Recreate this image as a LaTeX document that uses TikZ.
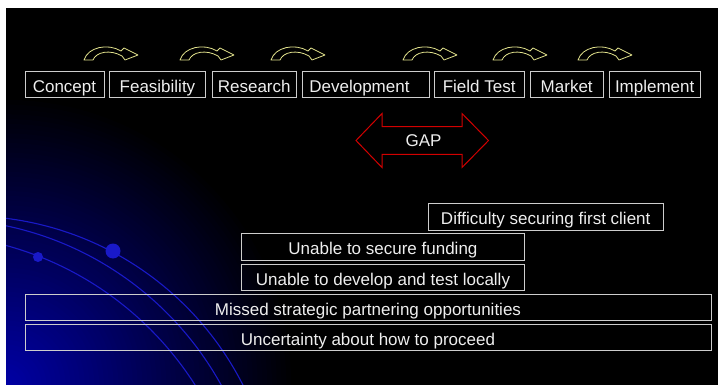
\documentclass[tikz,border=0pt]{standalone}
\usepackage{fontspec}
\setmainfont{Liberation Sans}
\definecolor{boxline}{RGB}{205,205,205}
\definecolor{txt}{RGB}{238,238,238}
\definecolor{arrowyel}{RGB}{225,225,140}
\definecolor{gapred}{RGB}{210,0,0}
\definecolor{deco}{RGB}{25,25,200}
\definecolor{glow}{RGB}{0,0,165}
\begin{document}
\begin{tikzpicture}[x=1pt,y=-1pt,
  stagebox/.style={draw=boxline, line width=0.9pt, text=txt,
    font=\fontsize{17}{19}\selectfont, inner sep=0pt, anchor=north west,
    text height=20pt, text depth=4pt},
  gaparrow/.style={draw=gapred, line width=1pt, line join=miter},
  decoarc/.style={draw=deco, line width=1.1pt},
  curvarrow/.pic={\draw[arrowyel, line width=0.8pt, line join=round]
    (0,0) -- (9,0) .. controls (12,-8) and (26,-11) .. (38,-4) -- (41,0)
    -- (54,-5) -- (40,-12) -- (37,-9) .. controls (24,-17) and (4,-13) .. (0,0) -- cycle;}
]
\useasboundingbox (0,0) rectangle (718,385);
\fill[white] (0,0) rectangle (718,385);
\fill[black] (6,8) rectangle (718,385);
\begin{scope}
  \clip (6,8) rectangle (718,385);
  \foreach \i in {1,...,60} {
    \pgfmathsetmacro\rr{290-4.8*\i}
    \pgfmathsetmacro\pc{100*\i/60}
    \fill[glow!\pc!black] (6,385) circle (\rr pt);
  }
  \draw[decoarc] (-32,524) circle (308pt);
  \draw[decoarc] (-60,540) circle (321pt);
  \draw[decoarc] (-80,560) circle (326pt);
  \fill[deco] (113,251) circle (7.5pt);
  \fill[deco] (38,257) circle (5pt);
\end{scope}

% stage boxes
\node[stagebox, minimum width=79pt, minimum height=26pt] (concept) at (24.5,71) {Concept};
\node[stagebox, minimum width=96pt, minimum height=26pt] (feas) at (109,71) {Feasibility};
\node[stagebox, minimum width=84.5pt, minimum height=26pt] (research) at (211.5,71) {Research};
\node[stagebox, minimum width=127pt, minimum height=26pt] (devel) at (301.5,71) {Development\hspace*{12pt}};
\node[stagebox, minimum width=90.5pt, minimum height=26pt] (field) at (433.5,71) {Field Test};
\node[stagebox, minimum width=72.5pt, minimum height=26pt] (market) at (530,71) {Market};
\node[stagebox, minimum width=91.5pt, minimum height=26pt] (impl) at (608.5,71) {Implement};

% curved arrows
\foreach \ax in {84,180,271,403,493,578}
  \pic at (\ax,60) {curvarrow};

% GAP arrow
\node[text=txt, font=\fontsize{17}{19}\selectfont] (gap) at (423.5,140.5) {GAP};
\draw[gaparrow] (gap.center) ++(-67.5,0) -- ++(26,-27) -- ++(0,13.2) -- ++(80,0)
  -- ++(0,-13.2) -- ++(26.5,27) -- ++(-26.5,27) -- ++(0,-13.2) -- ++(-80,0)
  -- ++(0,13.2) -- cycle;

% problem boxes
\node[stagebox, minimum width=234.5pt, minimum height=27pt] (client) at (428,203) {Difficulty securing first client};
\node[stagebox, minimum width=283pt, minimum height=27pt] (funding) at (241,233) {Unable to secure funding};
\node[stagebox, minimum width=283pt, minimum height=26pt] (local) at (241,264) {Unable to develop and test locally};
\node[stagebox, minimum width=686pt, minimum height=26pt] (partner) at (24.5,294) {Missed strategic partnering opportunities};
\node[stagebox, minimum width=686pt, minimum height=26pt] (uncert) at (24.5,324) {Uncertainty about how to proceed};
\end{tikzpicture}
\end{document}
